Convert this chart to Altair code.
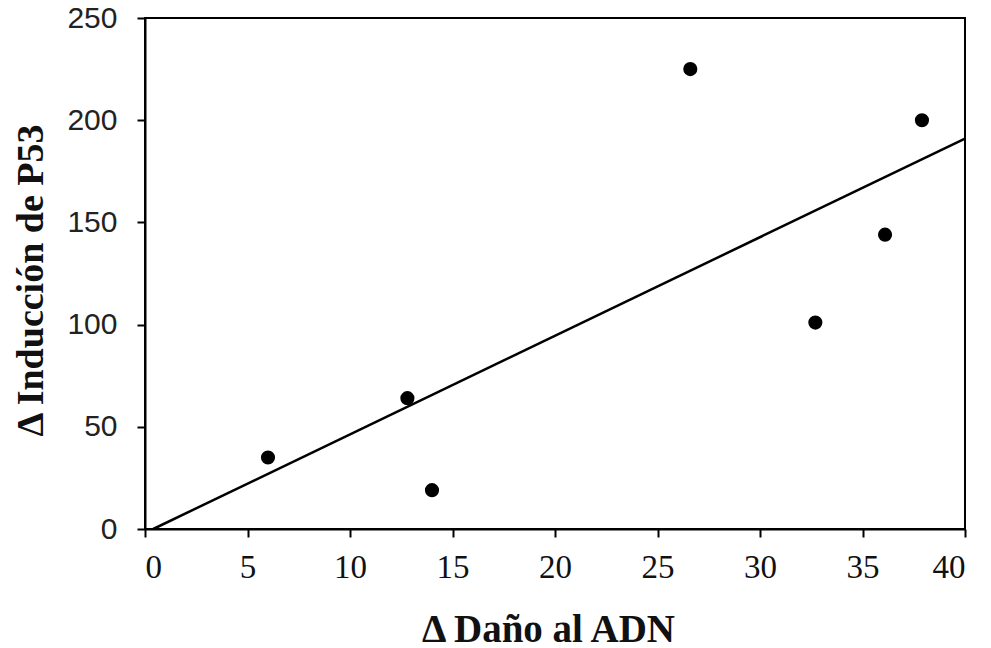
import altair as alt
import pandas as pd

# Data
dano = [6.0, 12.8, 14.0, 26.6, 32.7, 36.1, 37.9]
p53 = [35, 64, 19, 225, 101, 144, 200]

line_x = [0.4, 40.0]
line_y = [0, 191]

x_ticks = [0, 5, 10, 15, 20, 25, 30, 35, 40]
y_ticks = [0, 50, 100, 150, 200, 250]

pts = pd.DataFrame({"x": dano, "y": p53})
fit = pd.DataFrame({"x": line_x, "y": line_y})

xscale = alt.Scale(domain=[0, 40], nice=False, zero=False)
yscale = alt.Scale(domain=[0, 250], nice=False, zero=False)

xaxis = alt.Axis(
    title="Δ  Daño al ADN",
    values=x_ticks,
    grid=False,
    domainColor="black",
    domainWidth=2,
    tickColor="black",
    tickWidth=2,
    tickSize=8,
    labelFont="Liberation Serif",
    labelFontSize=33,
    labelColor="#111",
    labelPadding=14,
    titleFont="Liberation Serif",
    titleFontWeight="bold",
    titleFontSize=39,
    titleColor="#111",
    titleBaseline="alphabetic",
    titleY=112,
    titleX=403,
)

yaxis = alt.Axis(
    title="Δ Inducción de P53",
    values=y_ticks,
    grid=False,
    domainColor="black",
    domainWidth=2,
    tickColor="black",
    tickWidth=2,
    tickSize=8,
    labelFont="Liberation Sans",
    labelFontSize=30,
    labelColor="#222",
    labelPadding=20,
    titleFont="Liberation Serif",
    titleFontWeight="bold",
    titleFontSize=38,
    titleColor="#111",
    titleAngle=-90,
    titleBaseline="alphabetic",
    titleX=-103,
    titleY=262,
)

line = alt.Chart(fit).mark_line(color="black", strokeWidth=2.5).encode(
    x=alt.X("x:Q", scale=xscale, axis=xaxis),
    y=alt.Y("y:Q", scale=yscale, axis=yaxis),
)

points = alt.Chart(pts).mark_point(
    filled=True, color="black", opacity=1, size=200, shape="circle"
).encode(
    x=alt.X("x:Q", scale=xscale),
    y=alt.Y("y:Q", scale=yscale),
)

chart = (
    alt.layer(line, points)
    .properties(
        width=820,
        height=511,
        autosize=alt.AutoSizeParams(type="none"),
        padding={"left": 145, "top": 18, "right": 26, "bottom": 119},
        background="white",
    )
    .configure_view(stroke="black", strokeWidth=2)
)

chart.save("out.html", embed_options={"renderer": "svg", "actions": False})
